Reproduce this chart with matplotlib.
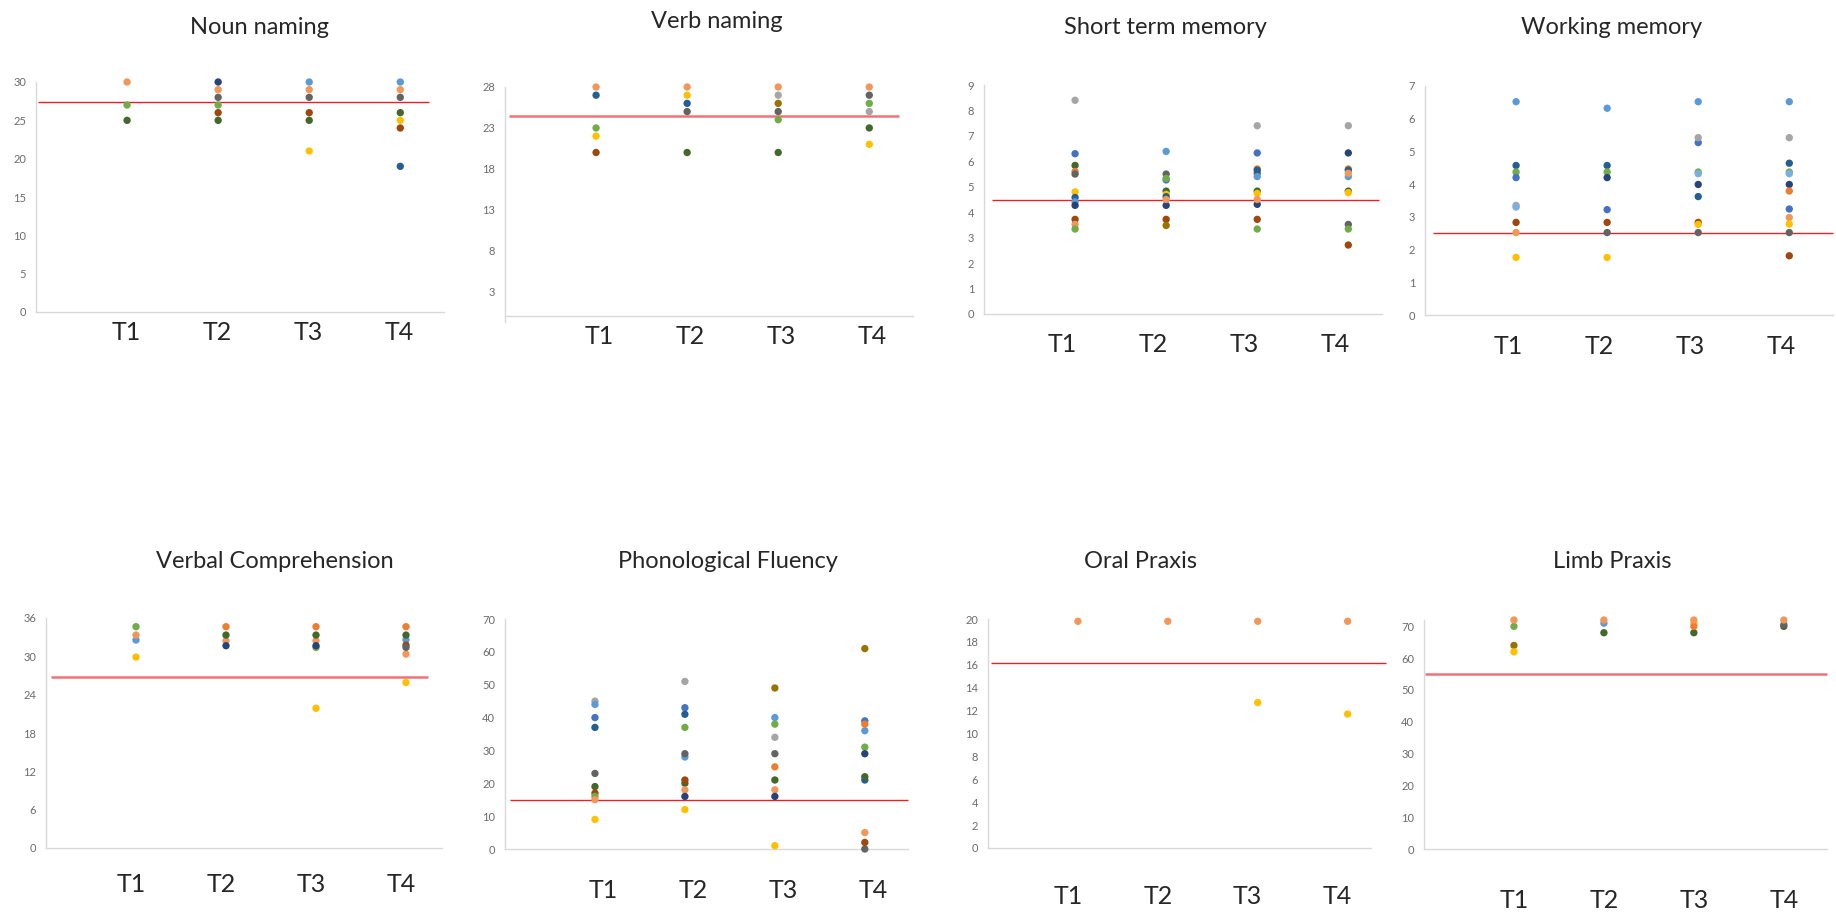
import matplotlib
matplotlib.use("Agg")
import matplotlib.pyplot as plt

plt.rcParams['font.family'] = ['Lato', 'DejaVu Sans']

W, H = 1836, 915
times = ["T1", "T2", "T3", "T4"]
xpos = [1, 2, 3, 4]

palette = {
    "blue": "#4472C4", "orange": "#ED7D31", "gray": "#A5A5A5", "gold": "#FFC000",
    "lblue": "#5B9BD5", "green": "#70AD47", "navy": "#264478", "brown": "#9E480E",
    "dgray": "#636363", "dgold": "#997300", "dblue": "#255E91", "dgreen": "#43682B",
    "lorange": "#F1975A", "lblue2": "#7CAFDD",
}

# scores per participant colour, one value per time point (None = no dot)
noun = {
    "green": [27, 27, None, None],
    "dgreen": [25, 25, 25, 26],
    "navy": [None, 30, None, None],
    "dgray": [None, 28, 28, 28],
    "brown": [None, 26, 26, 24],
    "lblue": [None, None, 30, 30],
    "gold": [None, None, 21, 25],
    "dblue": [None, None, None, 19],
    "lorange": [30, 29, 29, 29],
}
verb = {
    "dblue": [27, 26, None, None],
    "green": [23, None, 24, 26],
    "gold": [22, 27, None, 21],
    "brown": [20, None, None, None],
    "dgray": [None, 25, 25, 27],
    "dgreen": [None, 20, 20, 23],
    "gray": [None, None, 27, 25],
    "dgold": [None, None, 26, None],
    "lorange": [28, 28, 28, 28],
}
stm = {
    "gray": [8.4, None, 7.4, 7.4],
    "blue": [6.3, 5.27, 6.33, None],
    "dgreen": [5.84, 4.83, 4.83, 4.83],
    "orange": [5.6, None, 5.7, 5.7],
    "dgray": [5.5, 5.5, 5.53, 3.52],
    "gold": [4.8, 4.7, 4.74, 4.77],
    "dblue": [4.58, 4.61, 5.65, 5.65],
    "lblue": [4.41, 6.39, 5.4, 5.4],
    "navy": [4.27, 4.27, 4.31, 6.33],
    "brown": [3.72, 3.72, 3.72, 2.71],
    "lorange": [3.52, 4.5, 4.5, 5.53],
    "green": [3.34, 5.33, 3.34, 3.34],
    "dgold": [None, 3.48, None, None],
}
wm = {
    "lblue": [6.52, 6.32, 6.52, 6.52],
    "dblue": [4.57, 4.57, 3.62, 4.64],
    "green": [4.37, 4.37, 4.37, 4.37],
    "blue": [4.2, 3.22, 5.27, 3.24],
    "gray": [3.35, None, 5.42, 5.42],
    "lblue2": [3.3, None, 4.32, 4.32],
    "brown": [2.83, 2.83, 2.83, 1.81],
    "lorange": [2.52, None, None, 2.98],
    "gold": [1.76, 1.76, 2.77, 2.78],
    "navy": [None, 4.2, 3.99, 3.99],
    "dgray": [None, 2.52, 2.52, 2.52],
    "orange": [None, None, None, 3.79],
}
verbal = {
    "green": [34.64, None, 31.4, None],
    "lblue": [32.55, None, None, 32.6],
    "lorange": [33.33, 32.44, 32.44, 30.35],
    "gold": [29.88, None, 21.87, 25.9],
    "orange": [None, 34.64, 34.64, 34.64],
    "dgreen": [None, 33.33, 33.33, 33.33],
    "navy": [None, 31.66, 31.66, None],
    "brown": [None, None, None, 31.76],
    "dgray": [None, None, None, 31.4],
}
phono = {
    "gray": [45, 51, 34, None],
    "lblue": [44, 28, 40, 36],
    "blue": [40, 43, None, 39],
    "dblue": [37, 41, None, 21],
    "dgray": [23, 29, 29, 0],
    "dgreen": [19, 20, 21, 22],
    "brown": [17, 21, None, 2],
    "green": [16, 37, 38, 31],
    "lorange": [15, 18, 18, 5],
    "gold": [9, 12, 1, None],
    "navy": [None, 16, 16, 29],
    "dgold": [None, None, 49, 61],
    "orange": [None, None, 25, 38],
}
oral = {
    "gold": [None, None, 12.7, 11.7],
    "lorange": [19.8, 19.8, 19.8, 19.8],
}
limb = {
    "green": [70, None, None, None],
    "dgold": [64, None, None, None],
    "gold": [62, None, 71, None],
    "lblue": [None, 71, None, None],
    "dgreen": [None, 68, 68, 70],
    "orange": [None, None, 70, None],
    "dgray": [None, None, None, 70.5],
    "lorange": [72, 72, 72, 72],
}

titles = ["Noun naming", "Verb naming", "Short term memory", "Working memory",
          "Verbal Comprehension", "Phonological Fluency", "Oral Praxis", "Limb Praxis"]
datasets = [noun, verb, stm, wm, verbal, phono, oral, limb]
cutoffs = [27.4, 24.5, 4.5, 2.5, 26.7, 15, 16.2, 55]

# layout: axes box in px (left, top, right, bottom), y-limits, tick first/last/step
boxes = [(36, 82, 444, 312), (505, 87, 913, 322), (984, 85, 1382, 314), (1425, 86, 1833, 315),
         (46, 618, 442, 848), (505, 619, 908, 849), (988, 619, 1371, 848), (1424, 620, 1827, 849)]
ylims = [(0, 30), (-0.7, 28), (0, 9), (0, 7), (0, 36), (0, 70), (0, 20), (0, 72)]
ytick_spec = [(0, 30, 5), (3, 28, 5), (0, 9, 1), (0, 7, 1), (0, 36, 6), (0, 70, 10), (0, 20, 2), (0, 70, 10)]
xmaxs = [4.48, 4.48, 4.37, 4.48, 4.4, 4.48, 4.26, 4.48]
line_spans = [(0.02, 4.31), (0.04, 4.33), (0.09, 4.34), (0.09, 4.48),
              (0.06, 4.24), (0.06, 4.48), (0.03, 4.43), (0.01, 4.48)]
thick_line = [False, True, False, False, True, False, False, True]
title_pos = [(260, 28), (717, 21), (1165, 28), (1612, 28),
             (275, 562), (728, 562), (1141, 562), (1612, 562)]
label_off = [(-1, 20), (3, 15), (-13, 31), (-8, 32), (-5, 37), (8, 41), (-10, 49), (0, 51)]

fig = plt.figure(figsize=(W / 100, H / 100), dpi=100)

for i in range(8):
    l, t, r, b = boxes[i]
    ax = fig.add_axes([l / W, 1 - b / H, (r - l) / W, (b - t) / H])
    ax.set_xlim(0, xmaxs[i])
    ax.set_ylim(*ylims[i])
    lo, hi, st = ytick_spec[i]
    ax.set_yticks(list(range(lo, hi + 1, st)))
    ax.set_xticks([])
    ax.tick_params(axis='y', length=0, pad=7, labelsize=8, labelcolor='#6b6b6b')
    for s in ['top', 'right']:
        ax.spines[s].set_visible(False)
    for s in ['left', 'bottom']:
        ax.spines[s].set_color('#d9d9d9')
        ax.spines[s].set_linewidth(1)
    if ylims[i][0] < 0:
        ax.spines['bottom'].set_position(('data', 0))

    for key, vals in datasets[i].items():
        px = [x for x, v in zip(xpos, vals) if v is not None]
        py = [v for v in vals if v is not None]
        ax.scatter(px, py, s=28, color=palette[key], edgecolors='none',
                   zorder=3, clip_on=False)

    x0, x1 = line_spans[i]
    if thick_line[i]:
        ax.hlines(cutoffs[i], x0, x1, color='#F07278', lw=1.8, zorder=2, clip_on=False)
    else:
        ax.hlines(cutoffs[i], x0, x1, color='#E8202A', lw=1.0, zorder=2, clip_on=False)

    dx, dy = label_off[i]
    for x, lab in zip(xpos, times):
        ax.annotate(lab, xy=(x, 0), xycoords=('data', 'axes fraction'),
                    xytext=(dx, -dy), textcoords='offset pixels',
                    ha='center', va='center', fontsize=18,
                    color='#262626', annotation_clip=False)

    cx, cy = title_pos[i]
    fig.text(cx / W, 1 - cy / H, titles[i], ha='center', va='center',
             fontsize=17, color='#262626')

fig.savefig("out.png", dpi=100, facecolor='white')
